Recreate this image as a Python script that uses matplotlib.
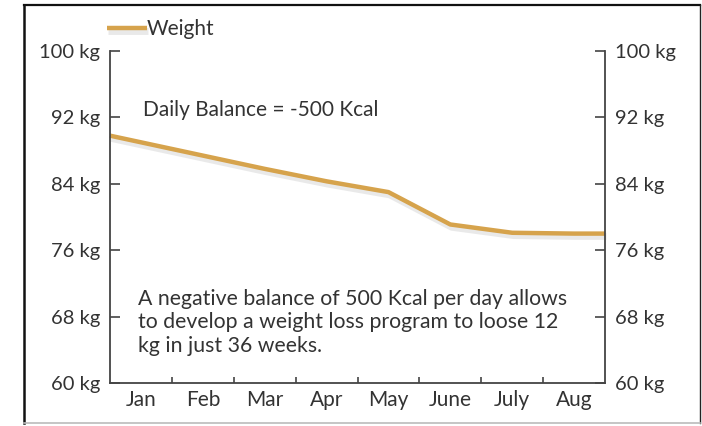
import matplotlib
matplotlib.use("Agg")
import matplotlib.pyplot as plt
import matplotlib.patheffects as pe
from matplotlib.lines import Line2D
import numpy as np

months = ["Jan", "Feb", "Mar", "Apr", "May", "June", "July", "Aug"]
weight = [89.0, 87.4, 85.8, 84.3, 83.0, 79.1, 78.1, 78.0]
start_weight = 89.8
end_weight = 78.0
yticks = [60, 68, 76, 84, 92, 100]
ytick_labels = [f"{v} kg" for v in yticks]

FONT = ["Lato", "DejaVu Sans"]
plt.rcParams["font.family"] = FONT
TXT = "#333333"
LINE = "#d6a34c"

fig = plt.figure(figsize=(7.02, 4.26), dpi=100)
fig.patch.set_facecolor("white")

# outer frame (top/left dark, right thin dark, bottom light grey)
L, R, T, B = 24 / 702, 700 / 702, 1 - 5 / 426, 1 - 423 / 426
fig.lines.append(Line2D([L, R], [T, T], transform=fig.transFigure, color="#111111", linewidth=1.6))
fig.lines.append(Line2D([L, L], [B, T], transform=fig.transFigure, color="#111111", linewidth=1.8))
fig.lines.append(Line2D([R, R], [B, T], transform=fig.transFigure, color="#222222", linewidth=1.0))
fig.lines.append(Line2D([L, R], [B, B], transform=fig.transFigure, color="#bbbbbb", linewidth=1.2))

ax = fig.add_axes([110 / 702, 1 - 383 / 426, (605 - 110) / 702, (383 - 51) / 426])
n = len(months)
xc = np.arange(n) + 0.5
xs = np.concatenate([[0], xc, [n]])
ys = np.concatenate([[start_weight], weight, [end_weight]])

ax.plot(xs, ys, color=LINE, linewidth=3.2, solid_capstyle="butt", label="Weight",
        path_effects=[pe.SimpleLineShadow(offset=(1, -2), shadow_color="#888888", alpha=0.18, linewidth=5),
                      pe.Normal()], clip_on=False)

ax.set_xlim(0, n)
ax.set_ylim(60, 100)
ax.spines["top"].set_visible(False)
for s in ["left", "right", "bottom"]:
    ax.spines[s].set_color("#444444")
    ax.spines[s].set_linewidth(1.3)

ax.set_yticks(yticks)
ax.set_yticklabels(ytick_labels)
ax.tick_params(axis="y", which="both", direction="in", length=7, width=1.2, color="#444444",
               labelsize=14.5, labelcolor=TXT, left=True, right=True, labelleft=True, labelright=True, pad=7)

ax.set_xticks(np.arange(1, n))
ax.set_xticklabels([])
ax.set_xticks(xc, minor=True)
ax.set_xticklabels(months, minor=True)
ax.tick_params(axis="x", which="major", direction="in", length=4, width=1.2, color="#444444")
ax.tick_params(axis="x", which="minor", length=0, labelsize=15, labelcolor=TXT, pad=5)

ax.text(0.53, 92.9, "Daily Balance = -500 Kcal", fontsize=15, color=TXT, va="center", ha="left")
ax.text(0.45, 67.3, "A negative balance of 500 Kcal per day allows\n"
        "to develop a weight loss program to loose 12\n"
        "kg in just 36 weeks.", fontsize=15.3, color=TXT, va="center", ha="left", linespacing=1.2)

leg = ax.legend(loc="center left", bbox_to_anchor=(-0.006, 1.066), frameon=False, fontsize=15,
                handlelength=1.92, handletextpad=0.0, borderaxespad=0, borderpad=0)
for t in leg.get_texts():
    t.set_color(TXT)

fig.savefig("out.png", dpi=100, facecolor="white")
